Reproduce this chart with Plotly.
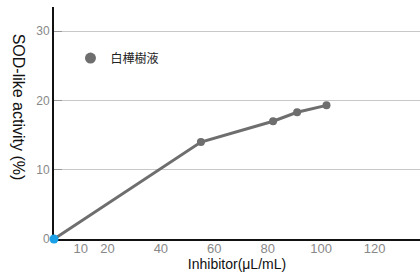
import plotly.graph_objects as go

# Data
inhibitor = [0, 55, 82, 91, 102]          # µL/mL
sod_activity = [0, 14.0, 17.0, 18.3, 19.3]  # %
series_name = "白樺樹液"
x_ticks = [10, 20, 40, 60, 80, 100, 120]
y_ticks = [0, 10, 20, 30]

GRAY = "#6e6e6e"
BLUE = "#1aa0e6"

fig = go.Figure()
fig.add_trace(go.Scatter(
    x=inhibitor, y=sod_activity, mode="lines+markers",
    line=dict(color=GRAY, width=3),
    marker=dict(size=[9] + [8] * (len(inhibitor) - 1),
                color=[BLUE] + [GRAY] * (len(inhibitor) - 1),
                line=dict(width=0), opacity=1),
    showlegend=False, cliponaxis=False,
))
fig.add_trace(go.Scatter(
    x=[None], y=[None], mode="markers", name=series_name,
    marker=dict(size=11, color=GRAY, line=dict(width=0)), showlegend=True,
))

fig.update_layout(
    width=420, height=276,
    margin=dict(l=54, r=0, t=7, b=37),
    paper_bgcolor="white", plot_bgcolor="white",
    font=dict(family="Liberation Sans, Arial, sans-serif", size=12, color="#888"),
    showlegend=True,
    legend=dict(x=0.045, y=0.78, xanchor="left", yanchor="middle",
                bgcolor="rgba(0,0,0,0)", itemwidth=30,
                font=dict(family="Noto Sans CJK JP", size=12, color="#222")),
    xaxis=dict(range=[0, 137], tickvals=x_ticks, ticktext=[str(v) for v in x_ticks],
               showgrid=False, zeroline=False, showline=True, linecolor="#111", linewidth=2,
               layer="below traces",
               ticks="", tickfont=dict(size=13, color="#888"), ticklabelstandoff=-4,
               title=dict(text="Inhibitor(μL/mL)", standoff=2,
                          font=dict(family="Liberation Sans, Arial", size=14, color="#111"))),
    yaxis=dict(range=[0, 33.5], tickvals=y_ticks,
               showgrid=True, gridcolor="#c8c8c8", gridwidth=1, zeroline=False,
               showline=True, linecolor="#111", linewidth=2, layer="below traces",
               ticks="inside", ticklen=8, tickcolor="#999",
               tickfont=dict(size=12, color="#888")),
    annotations=[dict(text="SOD-like activity (%)", textangle=90, xref="paper", yref="paper",
                      x=-0.098, y=0.57, showarrow=False, xanchor="center", yanchor="middle",
                      font=dict(family="Liberation Sans, Arial", size=16, color="#111"))],
)

fig.write_html("out.html", config={"displayModeBar": False},
               post_script="document.body.style.margin='0';document.body.style.padding='0';")
